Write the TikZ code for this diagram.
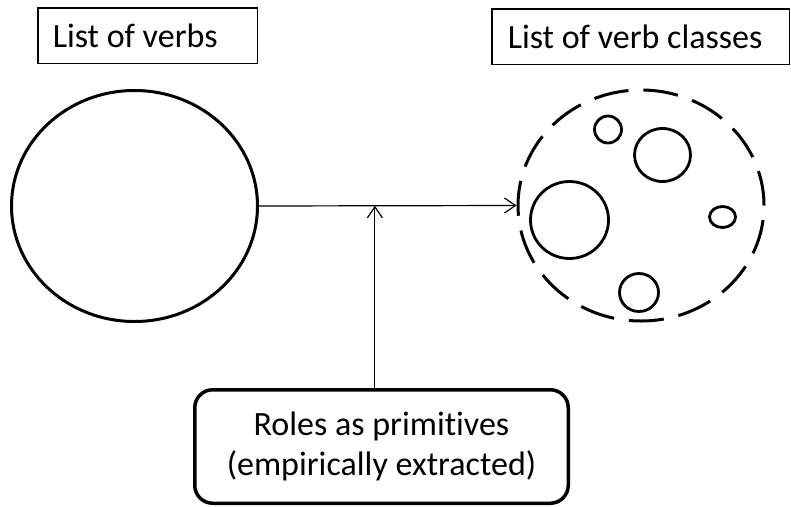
\documentclass[tikz,border=0pt]{standalone}
\usepackage{fontspec}
\setmainfont{Carlito}[Ligatures=NoCommon]
\usetikzlibrary{calc, shapes.geometric, arrows.meta}

\begin{document}
\begin{tikzpicture}[x=1pt, y=-1pt,
    labelbox/.style={draw, line width=1.5pt, minimum height=55.5pt, inner xsep=0pt, font=\fontsize{34}{40}\selectfont},
    bigset/.style={draw, ellipse, line width=3pt, minimum width=246pt, minimum height=231pt, inner sep=0pt},
    subset/.style={draw, ellipse, line width=2.8pt, inner sep=0pt},
    link/.style={line width=1.2pt, -{Straight Barb[length=11pt, width=15pt]}}]
    \useasboundingbox (0,0) rectangle (791,506);
    % Labels on top
    \node[labelbox] (verblabel) at (147.5,35.5) {\makebox[219.5pt][l]{\hspace{15pt}List of verbs}};
    \node[labelbox] (classlabel) at (640.5,36.5) {\makebox[297.5pt][l]{\hspace{16pt}List of verb classes}};
    % The two sets
    \node[bigset] (verbs) at (134.5,206) {};
    \node[bigset, dash pattern=on 35pt off 15pt] (classes) at (641,205.5) {};
    % Classes inside the dashed set
    \foreach \name/\cx/\cy/\w/\h in {
        clsa/608/129.5/27/27,
        clsb/662.5/155/56/53,
        clsc/569.5/220/78/77,
        clsd/722.5/217/26/21,
        clse/639/292.5/39/38
    } {
        \node[subset, minimum width=\w, minimum height=\h] (\name) at (\cx,\cy) {};
    }
    % Roles box
    \node[draw, line width=3.5pt, rounded corners=18pt, minimum width=373.5pt, minimum height=113.5pt, align=center, font=\fontsize{34}{40}\selectfont] (roles) at (381.5,446.5) {Roles as primitives\\(empirically extracted)};
    % Arrows
    \coordinate (meet) at ($(verbs.east)!0.45!(classes.west)$);
    \draw[link] (verbs.east) -- (classes.west);
    \draw[link] (roles.north -| meet) -- (meet);
\end{tikzpicture}
\end{document}
